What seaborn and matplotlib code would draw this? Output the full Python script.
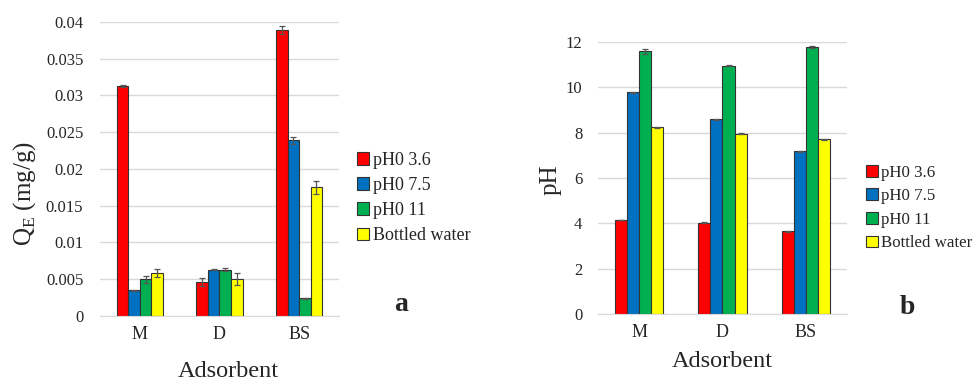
import pandas as pd
import matplotlib
matplotlib.use("Agg")
import matplotlib.pyplot as plt
import seaborn as sns

adsorbents = ["M", "D", "BS"]
series = ["pH0 3.6", "pH0 7.5", "pH0 11", "Bottled water"]
colors = ["#FF0000", "#0070C0", "#00B050", "#FFFF00"]

# panel a: Q_E (mg/g), one list per series over M, D, BS
qe_36 = [0.0313, 0.0046, 0.0389]
qe_75 = [0.0035, 0.0063, 0.0239]
qe_11 = [0.0050, 0.0063, 0.0024]
qe_bw = [0.0059, 0.0050, 0.0175]
qe_err_36 = [0.0001, 0.0005, 0.0005]
qe_err_75 = [0.0001, 0.0001, 0.00045]
qe_err_11 = [0.00045, 0.0002, 0.0001]
qe_err_bw = [0.00055, 0.0008, 0.0009]

# panel b: final pH
ph_36 = [4.15, 4.03, 3.65]
ph_75 = [9.79, 8.60, 7.18]
ph_11 = [11.59, 10.96, 11.79]
ph_bw = [8.25, 7.96, 7.72]
ph_err_36 = [0.02, 0.02, 0.02]
ph_err_75 = [0.02, 0.02, 0.02]
ph_err_11 = [0.10, 0.03, 0.06]
ph_err_bw = [0.02, 0.02, 0.02]


def long_table(vals, errs):
    rows = []
    for s, v, e in zip(series, vals, errs):
        for a, val, err in zip(adsorbents, v, e):
            rows.append({"Adsorbent": a, "series": s, "value": val, "err": err})
    return pd.DataFrame(rows)


qe = long_table([qe_36, qe_75, qe_11, qe_bw], [qe_err_36, qe_err_75, qe_err_11, qe_err_bw])
ph = long_table([ph_36, ph_75, ph_11, ph_bw], [ph_err_36, ph_err_75, ph_err_11, ph_err_bw])

sns.set_style("white")
plt.rcParams["font.family"] = ["Liberation Serif", "DejaVu Serif"]

fig = plt.figure(figsize=(9.75, 3.83), dpi=100)
ax1 = fig.add_axes([0.1026, 0.175, 0.245, 0.768])
ax2 = fig.add_axes([0.613, 0.180, 0.256, 0.710])


def draw(ax, df, ylim, ticks, ypad, legend_xy, legend_fs):
    sns.barplot(data=df, x="Adsorbent", y="value", hue="series", order=adsorbents,
                hue_order=series, palette=colors, saturation=1, errorbar=None, width=0.58,
                edgecolor="#333333", linewidth=0.8, ax=ax)
    for cont, s in zip(ax.containers, series):
        errs = df[df["series"] == s].set_index("Adsorbent").loc[adsorbents, "err"].values
        for bar, e in zip(cont, errs):
            ax.errorbar(bar.get_x() + bar.get_width() / 2, bar.get_height(), yerr=e,
                        fmt="none", ecolor="#555555", elinewidth=0.9, capsize=2.2,
                        capthick=0.9, zorder=4)
    ax.set_ylim(*ylim)
    ax.set_xlim(-0.5, 2.5)
    ax.set_yticks(ticks)
    ax.yaxis.grid(True, color="#D9D9D9", linewidth=1)
    ax.set_axisbelow(True)
    for sp in ["top", "right", "left"]:
        ax.spines[sp].set_visible(False)
    ax.spines["bottom"].set_color("#D9D9D9")
    ax.tick_params(axis="y", length=0, labelsize=12, pad=ypad)
    ax.tick_params(axis="x", length=0, labelsize=13, pad=7)
    ax.set_xlabel("Adsorbent", fontsize=17.5)
    ax.xaxis.label.set_va("center")
    ax.legend(loc="center left", bbox_to_anchor=legend_xy, bbox_transform=fig.transFigure,
              frameon=False, fontsize=legend_fs, handlelength=0.7, handleheight=0.7,
              handletextpad=0.2, labelspacing=0.45, borderaxespad=0, borderpad=0)


draw(ax1, qe, (0, 0.04), [0, 0.005, 0.01, 0.015, 0.02, 0.025, 0.03, 0.035, 0.04], 12,
     (0.366, 0.483), 13)
ax1.set_yticklabels(["0", "0.005", "0.01", "0.015", "0.02", "0.025", "0.03", "0.035", "0.04"])
ax1.set_ylabel("Q$_\\mathregular{E}$ (mg/g)", fontsize=18)
ax1.yaxis.label.set_va("center")
ax1.yaxis.set_label_coords(-0.314, 0.415)
ax1.xaxis.set_label_coords(0.536, -0.19)
fig.text(0.411, 0.204, "a", fontsize=20, fontweight="bold", ha="center", va="center")

draw(ax2, ph, (0, 12), [0, 2, 4, 6, 8, 10, 12], 11, (0.888, 0.457), 12.2)
ax2.set_ylabel("pH", fontsize=18)
ax2.yaxis.label.set_va("center")
ax2.yaxis.set_label_coords(-0.188, 0.493)
ax2.xaxis.set_label_coords(0.5, -0.176)
fig.text(0.931, 0.196, "b", fontsize=20, fontweight="bold", ha="center", va="center")

fig.savefig("out.png", dpi=100)
